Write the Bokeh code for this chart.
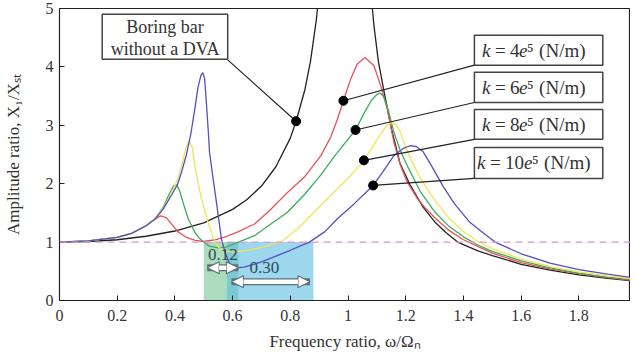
from bokeh.plotting import figure
from bokeh.models import FixedTicker, CustomJSTickFormatter, Arrow, NormalHead, Label, Span
from bokeh.core.properties import value
from bokeh.embed import file_html
from bokeh.resources import INLINE

# ---------------- data ----------------
bare_lo_x = [0, 0.1, 0.2, 0.3, 0.4, 0.5, 0.6, 0.65, 0.7, 0.75, 0.8, 0.82, 0.85, 0.87, 0.89, 0.91]
bare_lo_y = [1.0, 1.01, 1.04, 1.10, 1.19, 1.33, 1.56, 1.73, 1.96, 2.29, 2.78, 3.07, 3.6, 4.1, 4.8, 5.8]
bare_hi_x = [1.075, 1.09, 1.105, 1.124, 1.15, 1.18, 1.216, 1.26, 1.3, 1.34, 1.38, 1.45, 1.5, 1.6, 1.7, 1.8, 1.9, 2.0]
bare_hi_y = [5.5, 4.7, 4.1, 3.6, 2.95, 2.35, 1.97, 1.6, 1.35, 1.16, 1.0, 0.85, 0.77, 0.62, 0.52, 0.44, 0.38, 0.33]

k4_x = [0, 0.1, 0.2, 0.25, 0.3, 0.33, 0.35, 0.37, 0.39, 0.41, 0.44, 0.47, 0.5, 0.54, 0.58, 0.62, 0.676,
        0.73, 0.79, 0.85, 0.906, 0.94, 0.963, 0.984, 1.009, 1.032, 1.059, 1.09, 1.113, 1.136, 1.159, 1.182,
        1.205, 1.24, 1.27, 1.3, 1.35, 1.4, 1.5, 1.6, 1.7, 1.8, 1.9, 2.0]
k4_y = [1.0, 1.02, 1.08, 1.15, 1.28, 1.39, 1.45, 1.42, 1.3, 1.18, 1.08, 1.03, 1.01, 1.04, 1.1, 1.18, 1.31,
        1.55, 1.85, 2.12, 2.48, 2.8, 3.1, 3.42, 3.79, 4.05, 4.16, 4.02, 3.68, 3.28, 2.71, 2.31,
        2.03, 1.75, 1.57, 1.42, 1.2, 1.04, 0.81, 0.65, 0.54, 0.46, 0.39, 0.34]

k6_x = [0, 0.1, 0.2, 0.25, 0.3, 0.33, 0.36, 0.38, 0.395, 0.405, 0.415, 0.43, 0.446, 0.47, 0.486, 0.5, 0.52,
        0.55, 0.58, 0.62, 0.676, 0.73, 0.79, 0.85, 0.906, 0.95, 0.99, 1.026, 1.055, 1.08, 1.1, 1.112, 1.125,
        1.14, 1.159, 1.18, 1.205, 1.25, 1.3, 1.35, 1.4, 1.45, 1.5, 1.6, 1.7, 1.8, 1.9, 2.0]
k6_y = [1.0, 1.02, 1.08, 1.15, 1.28, 1.39, 1.6, 1.82, 1.96, 1.98, 1.9, 1.65, 1.4, 1.16, 1.06, 1.0, 0.93,
        0.9, 0.92, 1.0, 1.11, 1.3, 1.51, 1.82, 2.15, 2.45, 2.7, 2.92, 3.2, 3.42, 3.53, 3.55, 3.48,
        3.25, 2.88, 2.58, 2.31, 1.87, 1.52, 1.27, 1.09, 0.95, 0.84, 0.68, 0.56, 0.47, 0.4, 0.35]

k8_x = [0, 0.1, 0.2, 0.25, 0.3, 0.33, 0.36, 0.39, 0.411, 0.425, 0.44, 0.45, 0.46, 0.469, 0.48, 0.492, 0.515,
        0.532, 0.55, 0.57, 0.6, 0.65, 0.7, 0.768, 0.83, 0.906, 0.95, 0.998, 1.055, 1.1, 1.13, 1.15, 1.165,
        1.18, 1.2, 1.22, 1.25, 1.3, 1.35, 1.4, 1.45, 1.5, 1.6, 1.7, 1.8, 1.9, 2.0]
k8_y = [1.0, 1.02, 1.08, 1.15, 1.28, 1.39, 1.58, 1.85, 2.1, 2.35, 2.65, 2.74, 2.62, 2.31, 2.02, 1.74, 1.34,
        1.085, 0.92, 0.85, 0.83, 0.86, 0.91, 1.0, 1.25, 1.63, 1.85, 2.08, 2.4, 2.75, 2.97, 3.05, 3.02,
        2.9, 2.62, 2.4, 2.1, 1.72, 1.41, 1.18, 1.01, 0.89, 0.71, 0.58, 0.49, 0.42, 0.36]

k10_x = [0, 0.1, 0.2, 0.25, 0.3, 0.33, 0.36, 0.39, 0.41, 0.423, 0.44, 0.455, 0.468, 0.48, 0.49, 0.497, 0.503,
         0.509, 0.515, 0.52, 0.532, 0.544, 0.561, 0.575, 0.59, 0.61, 0.64, 0.7, 0.75, 0.8, 0.866, 0.92, 0.963,
         1.02, 1.087, 1.12, 1.159, 1.19, 1.215, 1.235, 1.26, 1.29, 1.33, 1.37, 1.42, 1.47, 1.51, 1.6, 1.7,
         1.8, 1.9, 2.0]
k10_y = [1.0, 1.02, 1.08, 1.15, 1.28, 1.39, 1.57, 1.82, 2.0, 2.2, 2.5, 2.85, 3.25, 3.65, 3.85, 3.9, 3.8,
         3.39, 2.95, 2.54, 2.1, 1.68, 1.06, 0.8, 0.63, 0.56, 0.57, 0.66, 0.76, 0.86, 1.0, 1.18, 1.4,
         1.65, 1.97, 2.2, 2.48, 2.6, 2.65, 2.64, 2.55, 2.3, 1.95, 1.65, 1.35, 1.15, 1.0, 0.8, 0.64,
         0.53, 0.45, 0.38]

series_labels = ["4", "6", "8", "10"]

# marked points (black dots) : bare bar, k=4e5, 6e5, 8e5, 10e5
dot_x = [0.82, 0.984, 1.026, 1.055, 1.087]
dot_y = [3.07, 3.42, 2.92, 2.40, 1.97]

# shaded bands where the amplitude ratio drops below 1
band_green = [0.50, 0.62]
band_cyan = [0.58, 0.88]
band_labels = ["0.12", "0.30"]

x_ticks = [0, 0.2, 0.4, 0.6, 0.8, 1.0, 1.2, 1.4, 1.6, 1.8, 2.0]
y_ticks = [0, 1, 2, 3, 4, 5]

# ---------------- figure ----------------
SERIF = "Liberation Serif"
INK = "#333333"
p = figure(width=630, height=354, x_range=(0, 1.979), y_range=(0, 5),
           output_backend="svg", toolbar_location=None,
           min_border_left=56, min_border_right=0, min_border_top=8, min_border_bottom=54)
p.grid.visible = False
p.outline_line_color = "#222222"
p.outline_line_width = 1.2
p.background_fill_color = "white"
p.border_fill_color = "white"

for ax in (p.xaxis[0], p.yaxis[0]):
    ax.major_tick_in = 5
    ax.major_tick_out = 0
    ax.minor_tick_line_color = None
    ax.axis_line_color = "#222222"
    ax.major_tick_line_color = "#222222"
    ax.major_label_text_font = SERIF
    ax.major_label_text_font_size = "16px"
    ax.major_label_text_color = INK
    ax.axis_label_text_font = SERIF
    ax.axis_label_text_font_size = "17px"
    ax.axis_label_text_font_style = "normal"
    ax.axis_label_text_color = INK

p.xaxis.ticker = FixedTicker(ticks=x_ticks)
p.yaxis.ticker = FixedTicker(ticks=y_ticks)
p.xaxis.formatter = CustomJSTickFormatter(
    code="return Math.abs(tick - Math.round(tick)) < 1e-9 ? tick.toFixed(0) : tick.toFixed(1);")
p.yaxis.formatter = CustomJSTickFormatter(code="return tick.toFixed(0);")
p.xaxis.major_label_standoff = 9
p.yaxis.major_label_standoff = 6
p.xaxis.axis_label = "Frequency ratio, ω/Ωₙ"
p.yaxis.axis_label = "Amplitude ratio, X₁/Xₛₜ"
p.xaxis.axis_label_standoff = 8
p.yaxis.axis_label_standoff = 20

# shaded bands
p.quad(left=[band_green[0]], right=[band_green[1]], bottom=[0], top=[1],
       fill_color="#74c492", fill_alpha=0.6, line_color=None)
p.quad(left=[band_cyan[0]], right=[band_cyan[1]], bottom=[0], top=[1],
       fill_color="#5bbde3", fill_alpha=0.6, line_color=None)

# reference level
p.add_layout(Span(location=1, dimension="width", line_color="#d898d2",
                  line_dash="7 5", line_width=1.3))

# curves
p.line(bare_lo_x, bare_lo_y, line_color="#222222", line_width=1.3)
p.line(bare_hi_x, bare_hi_y, line_color="#222222", line_width=1.3)
colors = ["#e8505a", "#3cae5a", "#f2e45a", "#5450c0"]
for xs, ys, c in zip([k4_x, k6_x, k8_x, k10_x], [k4_y, k6_y, k8_y, k10_y], colors):
    p.line(xs, ys, line_color=c, line_width=1.3)

# width arrows (hollow white double arrows)
def dbl_arrow(x0, x1, y):
    p.segment(x0=[x0], y0=[y], x1=[x1], y1=[y], line_color="#607078", line_width=7)
    p.add_layout(Arrow(start=NormalHead(size=12, fill_color="white", line_color="#607078", line_width=1.2),
                       end=NormalHead(size=12, fill_color="white", line_color="#607078", line_width=1.2),
                       x_start=x0, y_start=y, x_end=x1, y_end=y,
                       line_color="white", line_width=4.5))

dbl_arrow(band_green[0] + 0.012, band_green[1], 0.56)
dbl_arrow(band_cyan[0] + 0.016, band_cyan[1] - 0.012, 0.32)
p.text(x=[0.566], y=[0.78], text=[band_labels[0]], text_font=value(SERIF), text_font_size="17px",
       text_align="center", text_baseline="middle", text_color="#2c4a58")
p.text(x=[0.71], y=[0.57], text=[band_labels[1]], text_font=value(SERIF), text_font_size="17px",
       text_align="center", text_baseline="middle", text_color="#2c4a58")

# annotation boxes
p.quad(left=[0.148], right=[0.583], bottom=[4.13], top=[4.90],
       fill_color="white", line_color="#444444", line_width=1.5)
p.text(x=[0.366, 0.366], y=[4.69, 4.30], text=["Boring bar", "without a DVA"],
       text_font=value(SERIF), text_font_size="18px", text_align="center",
       text_baseline="middle", text_color=INK)

box_left, box_right = 1.438, 1.883
box_mid = (box_left + box_right) / 2
box_tops = [4.54, 3.91, 3.27, 2.62]
box_bottoms = [4.03, 3.39, 2.76, 2.09]
p.quad(left=[box_left] * 4, right=[box_right] * 4, bottom=box_bottoms, top=box_tops,
       fill_color="white", line_color="#444444", line_width=1.5)

def piece(txt, ym, off, italic=False):
    p.add_layout(Label(x=box_mid, y=ym, x_offset=off, text=txt, text_font=SERIF,
                       text_font_style="italic" if italic else "normal",
                       text_font_size="19px", text_baseline="middle", text_color=INK))

for lab, t, b in zip(series_labels, box_tops, box_bottoms):
    ym = (t + b) / 2
    n = len(lab)
    total = 103 + 10 * n
    s = -total / 2
    piece("k", ym, s, italic=True)
    piece("=", ym, s + 13)
    piece(lab, ym, s + 28)
    piece("e", ym, s + 28 + 10 * n - 1, italic=True)
    piece("⁵", ym, s + 28 + 10 * n + 7)
    piece("(N/m)", ym, s + 28 + 10 * n + 19)

# leader lines
lead_x0 = [0.583, box_left, box_left, box_left, box_left]
lead_y0 = [4.12] + box_bottoms
p.segment(x0=lead_x0, y0=lead_y0, x1=dot_x, y1=dot_y, line_color="#222222", line_width=1.2)
p.scatter(dot_x, dot_y, size=9, fill_color="black", line_color="black")

open("out.html", "w").write(file_html(p, INLINE))
